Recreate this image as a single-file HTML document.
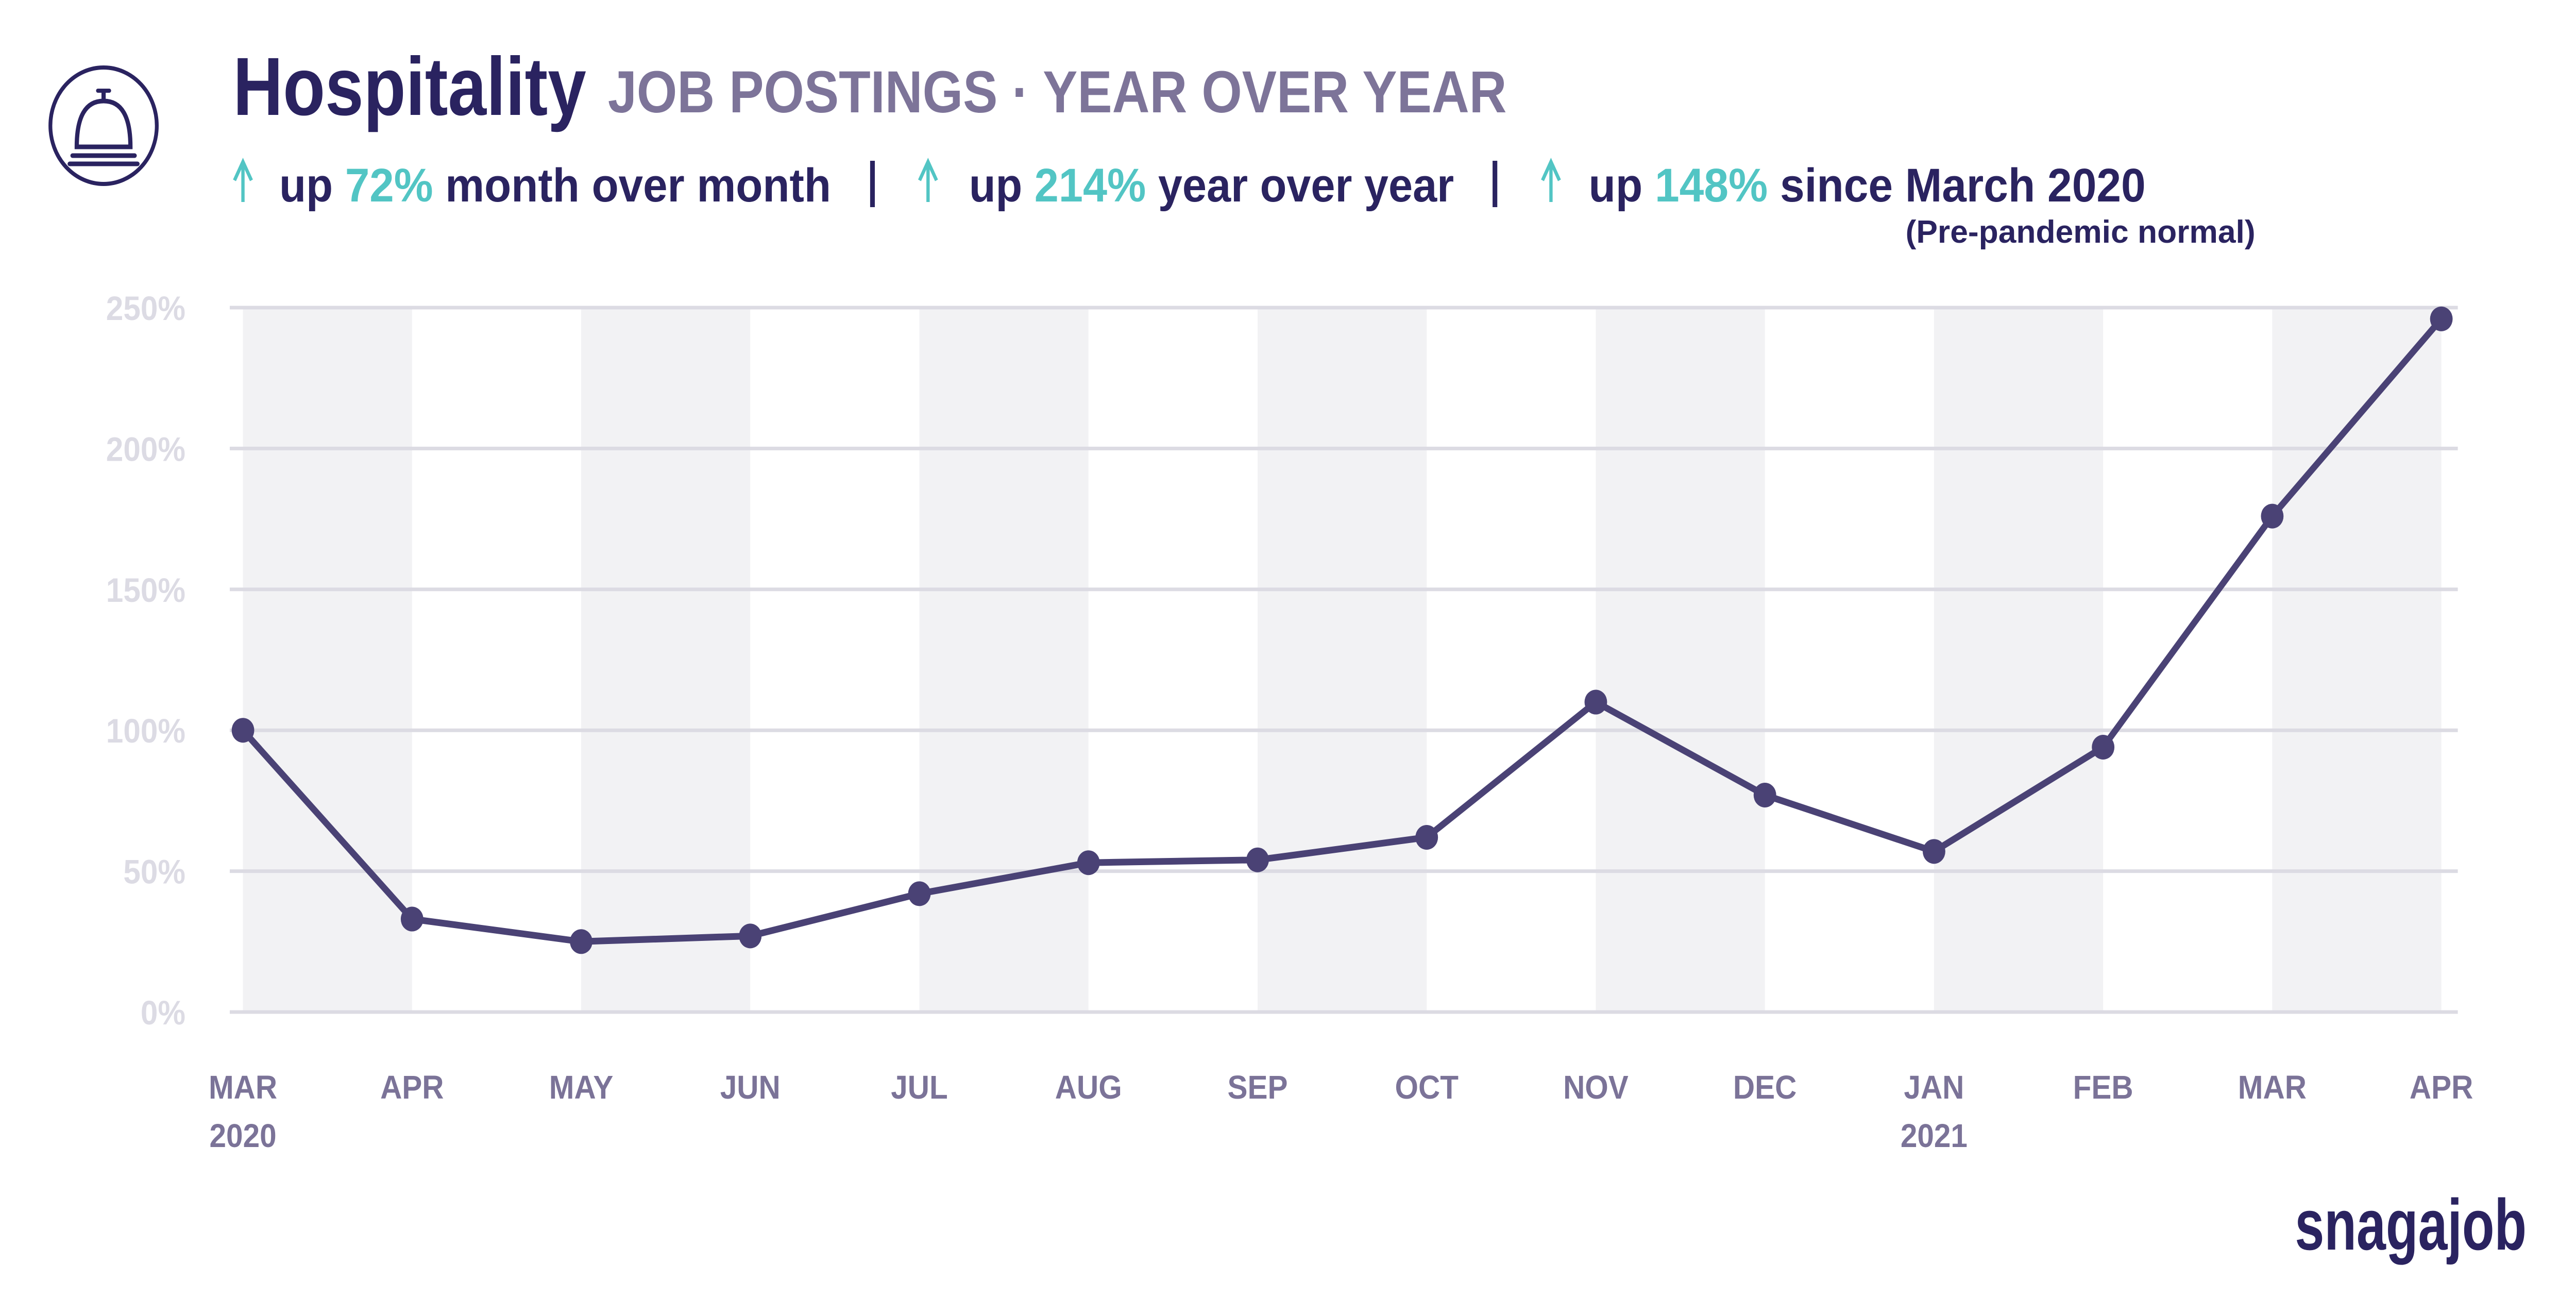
<!DOCTYPE html>
<html><head><meta charset="utf-8"><style>
html,body{margin:0;padding:0;background:#fff;overflow:hidden;width:100vw;height:100vh;}
svg{display:block;font-family:"Liberation Sans",sans-serif;width:100vw;height:100vh;}
</style></head><body>
<svg id="chart" viewBox="0 0 5471 2550" preserveAspectRatio="none" xmlns="http://www.w3.org/2000/svg">
<g fill="none" stroke="#2a2360">
  <circle cx="220" cy="244" r="113" stroke-width="8"/>
  <path d="M163 285 Q163 196 220 196 Q277 196 277 285 Z" stroke-width="9"/>
  <line x1="220" y1="196" x2="220" y2="178" stroke-width="9"/>
  <line x1="208" y1="176" x2="232" y2="176" stroke-width="8" stroke-linecap="round"/>
  <line x1="154" y1="302" x2="286" y2="302" stroke-width="9" stroke-linecap="round"/>
  <line x1="148" y1="318" x2="292" y2="318" stroke-width="9" stroke-linecap="round"/>
</g>
<text x="495" y="223" font-size="160" font-weight="700" fill="#2a2360" textLength="750" lengthAdjust="spacingAndGlyphs">Hospitality</text>
<text x="1291" y="218" font-size="115" font-weight="700" fill="#7d7499" textLength="1909" lengthAdjust="spacingAndGlyphs">JOB POSTINGS · YEAR OVER YEAR</text>

<g font-size="92" font-weight="700" fill="#2a2360">
  <path d="M516 392 V318 M498 350 L516 314 L534 350" stroke="#52c5c4" stroke-width="7" fill="none"/>
  <text x="593" y="391" textLength="1172" lengthAdjust="spacingAndGlyphs">up <tspan fill="#52c5c4">72%</tspan> month over month</text>
  <rect x="1848" y="312" width="10" height="90" fill="#2a2360"/>
  <path d="M1971 392 V318 M1953 350 L1971 314 L1989 350" stroke="#52c5c4" stroke-width="7" fill="none"/>
  <text x="2058" y="391" textLength="1030" lengthAdjust="spacingAndGlyphs">up <tspan fill="#52c5c4">214%</tspan> year over year</text>
  <rect x="3170" y="312" width="10" height="90" fill="#2a2360"/>
  <path d="M3294 392 V318 M3276 350 L3294 314 L3312 350" stroke="#52c5c4" stroke-width="7" fill="none"/>
  <text x="3374" y="391" textLength="1183" lengthAdjust="spacingAndGlyphs">up <tspan fill="#52c5c4">148%</tspan> since March 2020</text>
</g>
<text x="4047" y="471" font-size="62" font-weight="700" fill="#2a2360" textLength="743" lengthAdjust="spacingAndGlyphs">(Pre-pandemic normal)</text>

<g id="bands"></g>
<g id="grid"></g>
<g id="yaxis"></g>
<g id="xaxis"></g>
<g id="series"></g>

<text x="4874" y="2425" font-size="140" font-weight="700" fill="#2a2360" textLength="492" lengthAdjust="spacingAndGlyphs">snagajob</text>
</svg>
<script>
const months = ["MAR","APR","MAY","JUN","JUL","AUG","SEP","OCT","NOV","DEC","JAN","FEB","MAR","APR"];
const years = ["2020","","","","","","","","","","2021","","",""];
const values = [100,33,25,27,42,53,54,62,110,77,57,94,176,246];
const yTicks = [0,50,100,150,200,250];
const yTickLabels = ["0%","50%","100%","150%","200%","250%"];

const NS = "http://www.w3.org/2000/svg";
const x0 = 516, x1 = 5185, y0 = 1964, yTop = 597, yMax = 250;
function xs(i){ return x0 + (x1 - x0) * i / (months.length - 1); }
function ys(v){ return y0 - (y0 - yTop) * v / yMax; }
function mk(tag, attrs, parent){
  const e = document.createElementNS(NS, tag);
  for (const k in attrs) e.setAttribute(k, attrs[k]);
  parent.appendChild(e);
  return e;
}
const bands = document.getElementById('bands');
for (let i = 0; i < months.length - 1; i += 2) {
  const r = mk('rect', {x: xs(i), y: yTop, width: xs(i+1) - xs(i), height: y0 - yTop, fill: '#f2f2f4'}, bands);
  
  
}
const grid = document.getElementById('grid');
const yaxis = document.getElementById('yaxis');
yTicks.forEach((t, i) => {
  const l = mk('line', {x1: 488, x2: 5220, y1: ys(t), y2: ys(t), stroke: '#dcdbe3', 'stroke-width': 7}, grid);
  
  
  const tx = mk('text', {x: 394, y: ys(t) + 24, 'text-anchor': 'end', 'font-size': 66, 'font-weight': 700, fill: '#dcdbe4'}, yaxis);
  tx.textContent = yTickLabels[i];
  
  
});
const xaxis = document.getElementById('xaxis');
months.forEach((m, i) => {
  const tx = mk('text', {x: xs(i), y: 2132, 'text-anchor': 'middle', 'font-size': 64, 'font-weight': 700, fill: '#7b7398'}, xaxis);
  tx.textContent = m;
  
  
  if (years[i]) {
    const ty = mk('text', {x: xs(i), y: 2226, 'text-anchor': 'middle', 'font-size': 64, 'font-weight': 700, fill: '#7b7398'}, xaxis);
    ty.textContent = years[i];
    
    
  }
});
const series = document.getElementById('series');
const pts = values.map((v, i) => xs(i) + ',' + ys(v)).join(' ');
const pl = mk('polyline', {points: pts, fill: 'none', stroke: '#4a4275', 'stroke-width': 13, 'stroke-linejoin': 'round'}, series);


values.forEach((v, i) => {
  const c = mk('circle', {cx: xs(i), cy: ys(v), r: 24, fill: '#4a4275'}, series);
  
  
});
</script>
</body></html>
